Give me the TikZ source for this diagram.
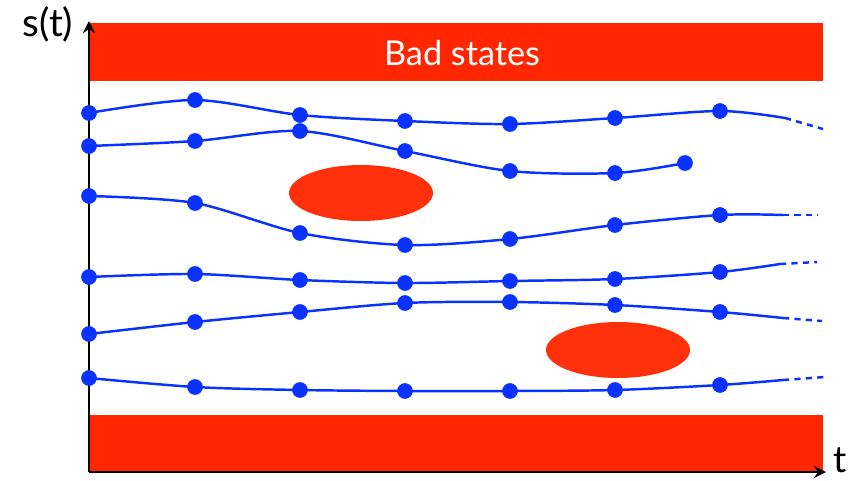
\documentclass[tikz,border=0pt]{standalone}
\usepackage{fontspec}
\setmainfont{Lato}
\usepackage{tkz-euclide}
\usetikzlibrary{arrows.meta}
\definecolor{badred}{RGB}{255,38,0}
\definecolor{blobred}{RGB}{255,48,10}
\definecolor{trajblue}{RGB}{10,50,255}

\begin{document}
\begin{tikzpicture}[
    traj/.style={trajblue, line width=1.4pt},
    trajtail/.style={traj, dash pattern=on 3.5pt off 3pt},
    axis/.style={line width=1.5pt, -{Stealth[length=7pt,width=7pt,inset=2.5pt]}}]
    \useasboundingbox (0,0) rectangle (17.04,9.6);
    % bad regions
    \fill[badred] (1.78,7.98) rectangle (16.46,9.14);
    \fill[badred] (1.78,0.16) rectangle (16.46,1.30);
    \fill[blobred] (7.22,5.74) ellipse (1.44 and 0.56);
    \fill[blobred] (12.36,2.60) ellipse (1.44 and 0.56);
    \node[text=white, font=\fontsize{19.5}{22}\selectfont] (bad) at (9.24,8.54) {Bad states};
    % axes
    \tkzDefPoint(1.78,0.16){O}
    \tkzDefPoint(1.78,9.18){Y}
    \tkzDefPoint(16.52,0.16){X}
    \draw[axis] (O) -- (Y);
    \draw[axis] (O) -- (X);
    \node[font=\fontsize{22}{24}\selectfont] (slbl) at (0.96,9.12) {s(t)};
    \node[font=\fontsize{21}{24}\selectfont, inner sep=0pt] (tlbl) at (16.80,0.40) {t};
    % trajectory a
    \tkzDefPoint(1.78,7.34){a1}  \tkzDefPoint(3.90,7.60){a2}
    \tkzDefPoint(6.00,7.30){a3}  \tkzDefPoint(8.10,7.18){a4}
    \tkzDefPoint(10.20,7.12){a5} \tkzDefPoint(12.30,7.24){a6}
    \tkzDefPoint(14.40,7.38){a7} \tkzDefPoint(15.70,7.24){a8}
    \tkzDefPoint(16.46,7.02){a9}
    % trajectory b
    \tkzDefPoint(1.78,6.68){b1}  \tkzDefPoint(3.90,6.78){b2}
    \tkzDefPoint(6.00,6.98){b3}  \tkzDefPoint(8.10,6.58){b4}
    \tkzDefPoint(10.20,6.18){b5} \tkzDefPoint(12.30,6.14){b6}
    \tkzDefPoint(13.70,6.34){b7}
    % trajectory c
    \tkzDefPoint(1.78,5.68){c1}  \tkzDefPoint(3.90,5.54){c2}
    \tkzDefPoint(6.00,4.94){c3}  \tkzDefPoint(8.10,4.70){c4}
    \tkzDefPoint(10.20,4.82){c5} \tkzDefPoint(12.30,5.10){c6}
    \tkzDefPoint(14.40,5.30){c7} \tkzDefPoint(15.66,5.30){c8}
    \tkzDefPoint(16.36,5.30){c9}
    % trajectory d
    \tkzDefPoint(1.78,4.06){d1}  \tkzDefPoint(3.90,4.12){d2}
    \tkzDefPoint(6.00,4.00){d3}  \tkzDefPoint(8.10,3.94){d4}
    \tkzDefPoint(10.20,3.98){d5} \tkzDefPoint(12.30,4.02){d6}
    \tkzDefPoint(14.40,4.16){d7} \tkzDefPoint(15.60,4.32){d8}
    \tkzDefPoint(16.34,4.36){d9}
    % trajectory e
    \tkzDefPoint(1.78,2.92){e1}  \tkzDefPoint(3.90,3.16){e2}
    \tkzDefPoint(6.00,3.36){e3}  \tkzDefPoint(8.10,3.54){e4}
    \tkzDefPoint(10.20,3.56){e5} \tkzDefPoint(12.30,3.50){e6}
    \tkzDefPoint(14.40,3.36){e7} \tkzDefPoint(15.66,3.24){e8}
    \tkzDefPoint(16.44,3.18){e9}
    % trajectory f
    \tkzDefPoint(1.78,2.04){f1}  \tkzDefPoint(3.90,1.86){f2}
    \tkzDefPoint(6.00,1.80){f3}  \tkzDefPoint(8.10,1.78){f4}
    \tkzDefPoint(10.20,1.78){f5} \tkzDefPoint(12.30,1.80){f6}
    \tkzDefPoint(14.40,1.90){f7} \tkzDefPoint(15.66,2.00){f8}
    \tkzDefPoint(16.50,2.06){f9}
    \draw[traj] plot[smooth] coordinates {(a1)(a2)(a3)(a4)(a5)(a6)(a7)(a8)};
    \draw[traj] plot[smooth] coordinates {(b1)(b2)(b3)(b4)(b5)(b6)(b7)};
    \draw[traj] plot[smooth] coordinates {(c1)(c2)(c3)(c4)(c5)(c6)(c7)(c8)};
    \draw[traj] plot[smooth] coordinates {(d1)(d2)(d3)(d4)(d5)(d6)(d7)(d8)};
    \draw[traj] plot[smooth] coordinates {(e1)(e2)(e3)(e4)(e5)(e6)(e7)(e8)};
    \draw[traj] plot[smooth] coordinates {(f1)(f2)(f3)(f4)(f5)(f6)(f7)(f8)};
    \draw[trajtail] (a8) -- (a9);
    \draw[trajtail] (c8) -- (c9);
    \draw[trajtail] (d8) -- (d9);
    \draw[trajtail] (e8) -- (e9);
    \draw[trajtail] (f8) -- (f9);
    \tkzSetUpPoint[color=trajblue, fill=trajblue, size=8.5pt]
    \tkzDrawPoints(a1,a2,a3,a4,a5,a6,a7)
    \tkzDrawPoints(b1,b2,b3,b4,b5,b6,b7)
    \tkzDrawPoints(c1,c2,c3,c4,c5,c6,c7)
    \tkzDrawPoints(d1,d2,d3,d4,d5,d6,d7)
    \tkzDrawPoints(e1,e2,e3,e4,e5,e6,e7)
    \tkzDrawPoints(f1,f2,f3,f4,f5,f6,f7)
\end{tikzpicture}
\end{document}
